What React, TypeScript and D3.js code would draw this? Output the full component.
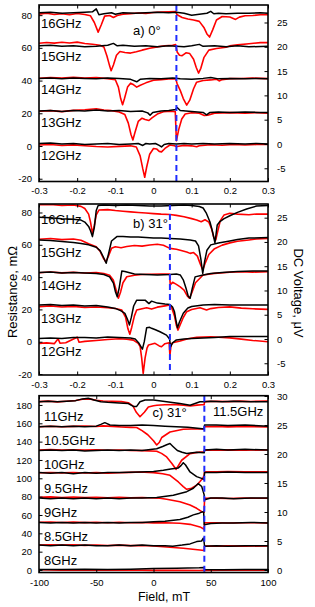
import React, { useEffect, useRef } from "react";
import * as d3 from "d3";

type Pt = [number, number];

// ---- panel a) 0deg, field in T. red = resistance (mOhm), black = DC voltage (uV)
const a16R: Pt[] = [[-0.3,80.6],[-0.28,81.2],[-0.26,80.4],[-0.24,80.9],[-0.22,80.2],[-0.2,81.0],[-0.18,80.4],[-0.165,79.6],[-0.155,75.5],[-0.145,69.6],[-0.137,74],[-0.128,79.4],[-0.115,79.8],[-0.105,78.6],[-0.095,79.8],[-0.08,80.6],[-0.06,80.9],[-0.04,81.3],[-0.02,81.1],[0,81.6],[0.02,81.9],[0.04,82.1],[0.058,82.2],[0.062,80.2],[0.075,78.6],[0.09,77.6],[0.105,77],[0.12,76.2],[0.132,72.5],[0.14,68.5],[0.147,66.6],[0.155,71],[0.165,77],[0.18,79.2],[0.2,78.9],[0.215,77.4],[0.225,78.8],[0.24,79.6],[0.26,79.8],[0.28,80.2],[0.3,80.3]];
const a16B: Pt[] = [[-0.3,27.0],[-0.27,27.1],[-0.24,26.9],[-0.21,27.0],[-0.18,27.1],[-0.16,27.2],[-0.15,27.8],[-0.143,26.6],[-0.13,26.8],[-0.11,27.0],[-0.1,26.7],[-0.08,27.0],[-0.05,26.9],[-0.02,27.0],[0.01,27.1],[0.04,27.0],[0.06,27.1],[0.08,26.9],[0.1,26.5],[0.12,26.7],[0.14,26.9],[0.15,27.3],[0.158,26.8],[0.17,26.9],[0.19,26.8],[0.22,26.9],[0.25,26.9],[0.28,27.0],[0.3,26.9]];
const a15R: Pt[] = [[-0.3,62.8],[-0.28,63.3],[-0.26,62.9],[-0.24,63.4],[-0.22,63.0],[-0.2,63.5],[-0.18,62.7],[-0.16,62.2],[-0.14,61.6],[-0.13,60.5],[-0.122,55],[-0.115,49],[-0.111,46],[-0.105,49.5],[-0.097,55.5],[-0.088,57.8],[-0.075,57.2],[-0.06,56.8],[-0.045,57.6],[-0.03,58.6],[-0.01,59.8],[0.01,60.6],[0.03,61.3],[0.05,61.6],[0.058,62.0],[0.062,57.5],[0.068,55.5],[0.075,55.2],[0.085,57],[0.095,56.5],[0.105,53],[0.112,48],[0.118,44.6],[0.124,47.5],[0.132,54],[0.145,58.6],[0.165,59.6],[0.19,60.4],[0.2,61.2],[0.22,61.8],[0.25,62.5],[0.28,63.2],[0.3,63.2]];
const a15B: Pt[] = [[-0.3,20.2],[-0.27,20.3],[-0.24,20.1],[-0.21,20.2],[-0.18,20.0],[-0.15,20.1],[-0.12,20.3],[-0.105,20.7],[-0.095,20.2],[-0.08,20.3],[-0.05,20.1],[-0.02,20.2],[0.01,20.0],[0.04,20.2],[0.06,20.1],[0.08,20.0],[0.1,20.2],[0.12,20.5],[0.13,20.1],[0.16,20.2],[0.19,20.0],[0.22,20.2],[0.25,20.0],[0.3,20.1]];
const a14R: Pt[] = [[-0.3,41.4],[-0.27,41.9],[-0.24,41.5],[-0.21,42.0],[-0.18,41.6],[-0.15,41.8],[-0.12,41.2],[-0.1,40.5],[-0.092,36],[-0.086,29],[-0.081,25.2],[-0.076,29],[-0.068,36],[-0.06,38.4],[-0.052,37.4],[-0.044,36],[-0.036,37],[-0.02,38.6],[0,40.2],[0.02,40.6],[0.04,41.0],[0.058,41.2],[0.062,38],[0.07,34],[0.078,29],[0.087,25.0],[0.095,28],[0.105,35],[0.113,39],[0.13,40],[0.15,40.4],[0.165,40.9],[0.172,39.8],[0.18,40.6],[0.2,41.2],[0.23,41.3],[0.26,41.5],[0.3,41.2]];
const a14B: Pt[] = [[-0.3,13.5],[-0.27,13.6],[-0.24,13.4],[-0.21,13.6],[-0.18,13.5],[-0.15,13.4],[-0.12,13.6],[-0.09,13.5],[-0.06,13.3],[-0.044,12.8],[-0.035,13.3],[-0.01,13.5],[0.02,13.4],[0.05,13.6],[0.07,13.4],[0.1,13.3],[0.13,13.5],[0.15,13.7],[0.17,13.4],[0.2,13.5],[0.24,13.4],[0.27,13.5],[0.3,13.4]];
const a13R: Pt[] = [[-0.3,21.2],[-0.27,21.6],[-0.24,21.0],[-0.21,21.8],[-0.18,22.2],[-0.15,22.8],[-0.13,22.0],[-0.11,21.6],[-0.09,20.8],[-0.075,19.2],[-0.066,14],[-0.059,7],[-0.054,3.7],[-0.049,8],[-0.04,15],[-0.03,17],[-0.022,16.2],[-0.012,15.6],[-0.004,17.2],[0.01,19.5],[0.026,21],[0.045,21.2],[0.057,21.0],[0.06,3.2],[0.066,10],[0.074,16.5],[0.083,19.6],[0.1,20.3],[0.12,20.0],[0.133,18.6],[0.142,18.8],[0.16,20.1],[0.2,20.4],[0.24,20.1],[0.27,20.4],[0.3,20.0]];
const a13B: Pt[] = [[-0.3,6.8],[-0.27,6.9],[-0.24,6.7],[-0.21,6.9],[-0.18,6.8],[-0.15,7.0],[-0.12,6.8],[-0.09,6.9],[-0.06,6.7],[-0.03,6.8],[-0.015,6.4],[-0.009,5.9],[-0.002,6.5],[0.02,6.8],[0.04,6.9],[0.058,7.1],[0.062,7.5],[0.07,6.9],[0.1,6.7],[0.13,6.5],[0.139,6.0],[0.148,6.5],[0.17,6.6],[0.2,6.5],[0.24,6.6],[0.27,6.5],[0.3,6.5]];
const a12R: Pt[] = [[-0.3,0.6],[-0.27,0.9],[-0.24,0.3],[-0.21,0.7],[-0.18,0.2],[-0.15,-0.3],[-0.12,-0.6],[-0.09,-0.2],[-0.06,0.1],[-0.045,-0.6],[-0.035,-6],[-0.028,-14],[-0.023,-19.1],[-0.018,-13],[-0.01,-5],[0,-1.5],[0.008,-1.8],[0.015,-3.3],[0.021,-3.6],[0.03,-1.5],[0.043,0.6],[0.055,0.2],[0.06,-0.4],[0.065,-0.1],[0.08,0.4],[0.1,0.1],[0.113,-0.5],[0.12,0.2],[0.15,0.8],[0.18,0.5],[0.21,0.9],[0.24,0.6],[0.27,0.9],[0.3,1.0]];
const a12B: Pt[] = [[-0.3,0.1],[-0.27,0.2],[-0.24,0.0],[-0.21,0.1],[-0.18,-0.1],[-0.15,0.0],[-0.12,0.1],[-0.09,-0.1],[-0.06,0.0],[-0.04,0.1],[-0.028,-0.3],[-0.02,0.1],[-0.01,0.0],[0.005,0.1],[0.015,-0.3],[0.021,-0.6],[0.028,-0.1],[0.04,0.1],[0.06,0.0],[0.08,0.1],[0.1,0.0],[0.13,0.1],[0.16,0.0],[0.2,0.1],[0.24,0.0],[0.27,0.1],[0.3,0.0]];

// ---- panel b) 31deg
const b16R: Pt[] = [[-0.3,84.8],[-0.27,85.0],[-0.24,84.3],[-0.21,84.6],[-0.19,83.8],[-0.18,82.5],[-0.17,79],[-0.165,74],[-0.16,67],[-0.155,72],[-0.15,78.5],[-0.143,81.5],[-0.12,81.8],[-0.1,81.2],[-0.08,80.8],[-0.06,80.4],[-0.04,80.0],[-0.02,79.7],[0,79.3],[0.02,79.0],[0.043,78.8],[0.06,78.2],[0.08,77.4],[0.1,76.2],[0.113,75.4],[0.125,74.3],[0.135,75.5],[0.145,74],[0.152,70],[0.158,64.5],[0.163,63],[0.168,68],[0.175,75],[0.185,78.5],[0.2,79.5],[0.22,79.0],[0.25,78.6],[0.27,79.1],[0.3,79.0]];
const b16B: Pt[] = [[-0.3,25.1],[-0.27,25.0],[-0.24,24.8],[-0.21,24.7],[-0.19,24.5],[-0.18,24.1],[-0.17,23.2],[-0.165,22.3],[-0.16,21.1],[-0.155,23],[-0.15,26.5],[-0.145,27.5],[-0.13,27.6],[-0.1,27.5],[-0.07,27.6],[-0.04,27.5],[-0.01,27.4],[0.02,27.4],[0.05,27.5],[0.08,27.6],[0.1,27.5],[0.12,27.3],[0.13,27.0],[0.138,26.0],[0.148,24.1],[0.155,22],[0.161,19.8],[0.167,23.5],[0.174,24.2],[0.185,24.8],[0.2,25.4],[0.22,26.1],[0.244,26.8],[0.27,27.4],[0.3,27.5]];
const b15R: Pt[] = [[-0.3,63.4],[-0.27,63.9],[-0.24,63.2],[-0.21,63.6],[-0.19,62.8],[-0.17,60.6],[-0.15,58.8],[-0.14,56],[-0.132,52],[-0.125,49.5],[-0.118,53],[-0.11,57.8],[-0.1,58.8],[-0.085,58.2],[-0.07,58.9],[-0.05,59.6],[-0.03,59.2],[-0.01,59.9],[0.01,60.3],[0.026,59.7],[0.043,57.8],[0.06,57.2],[0.075,56.3],[0.087,55.6],[0.096,54.7],[0.105,55.2],[0.115,53],[0.122,48.5],[0.129,44.4],[0.136,49],[0.145,54],[0.16,57.6],[0.18,59.8],[0.2,61.2],[0.22,62.2],[0.25,63.0],[0.27,63.6],[0.3,64.0]];
const b15B: Pt[] = [[-0.3,20.4],[-0.27,20.3],[-0.24,20.1],[-0.21,19.9],[-0.19,19.7],[-0.17,19.4],[-0.15,18.9],[-0.14,18.2],[-0.132,17],[-0.124,15.6],[-0.118,17.5],[-0.11,20.2],[-0.096,21.1],[-0.08,21.1],[-0.06,21.0],[-0.04,21.0],[-0.02,20.9],[0,20.8],[0.02,20.8],[0.043,20.7],[0.07,20.6],[0.096,20.4],[0.11,20.2],[0.118,19.2],[0.124,16.5],[0.129,13.5],[0.134,16],[0.14,18.3],[0.15,19.4],[0.17,19.8],[0.2,20.2],[0.22,20.5],[0.25,20.8],[0.3,20.9]];
const b14R: Pt[] = [[-0.3,42.7],[-0.27,43.2],[-0.24,42.6],[-0.21,43.0],[-0.18,42.5],[-0.15,42.9],[-0.13,42.2],[-0.115,41.2],[-0.105,38],[-0.098,32],[-0.092,26.9],[-0.086,31],[-0.08,36.5],[-0.07,40.2],[-0.05,41.2],[-0.03,41.6],[-0.01,41.8],[0.02,41.9],[0.042,41.9],[0.044,35.1],[0.05,36.8],[0.06,35.5],[0.07,34],[0.08,32],[0.088,28.5],[0.094,26.9],[0.1,30],[0.11,36.5],[0.13,41.3],[0.16,42.3],[0.2,43.0],[0.23,43.3],[0.26,43.1],[0.3,43.3]];
const b14B: Pt[] = [[-0.3,13.7],[-0.27,13.8],[-0.24,13.6],[-0.21,13.7],[-0.18,13.6],[-0.15,13.5],[-0.13,13.3],[-0.115,12.8],[-0.105,11.5],[-0.1,9.8],[-0.095,8.7],[-0.09,10.5],[-0.083,14.0],[-0.075,13.9],[-0.05,13.4],[-0.02,13.3],[0.01,13.2],[0.043,13.3],[0.06,13.4],[0.07,13.2],[0.078,12.2],[0.085,10.5],[0.091,8.8],[0.096,8.4],[0.102,10.6],[0.109,12.8],[0.13,13.2],[0.15,13.5],[0.18,13.7],[0.22,13.9],[0.26,14.0],[0.3,14.0]];
const b13R: Pt[] = [[-0.3,21.7],[-0.27,22.2],[-0.24,21.5],[-0.21,21.9],[-0.18,21.2],[-0.15,21.5],[-0.12,21.0],[-0.1,20.6],[-0.083,19.6],[-0.073,15],[-0.067,8],[-0.062,4.6],[-0.057,9],[-0.05,16],[-0.044,19.6],[-0.03,20.4],[-0.018,21.0],[-0.005,20.2],[0.01,21.4],[0.03,22.2],[0.043,22.7],[0.048,20.8],[0.055,16],[0.06,10],[0.064,7.2],[0.07,10.5],[0.078,15],[0.087,18.6],[0.1,20.0],[0.122,21.0],[0.139,19.6],[0.15,20.5],[0.17,21.2],[0.2,21.6],[0.23,20.8],[0.26,20.4],[0.3,20.0]];
const b13B: Pt[] = [[-0.3,7.0],[-0.27,7.1],[-0.24,6.9],[-0.21,7.0],[-0.18,6.8],[-0.15,6.9],[-0.12,6.6],[-0.1,6.3],[-0.085,5.8],[-0.075,5.3],[-0.068,4],[-0.063,2.9],[-0.058,4.5],[-0.052,6.8],[-0.044,8.0],[-0.03,8.0],[-0.022,8.0],[-0.012,7.3],[-0.005,7.8],[0.01,7.4],[0.03,7.2],[0.043,7.1],[0.05,6.6],[0.055,5.6],[0.059,3.8],[0.063,2.3],[0.068,3.5],[0.078,5.3],[0.09,6.4],[0.1,6.7],[0.13,7.0],[0.16,7.1],[0.2,7.0],[0.25,7.0],[0.3,7.0]];
const b12R: Pt[] = [[-0.3,-1.0],[-0.28,-0.7],[-0.26,-1.2],[-0.25,1.8],[-0.245,-0.9],[-0.23,-0.6],[-0.2,2.8],[-0.195,-0.3],[-0.18,0.2],[-0.15,0.8],[-0.12,1.4],[-0.09,1.8],[-0.07,1.5],[-0.053,1.0],[-0.04,-1.0],[-0.035,-3.1],[-0.031,-10],[-0.027,-19.6],[-0.022,-10],[-0.017,-4],[-0.013,-2.0],[0.004,-1.0],[0.015,-2.6],[0.021,-3.1],[0.03,-1.2],[0.041,-0.6],[0.043,-8.7],[0.046,-2],[0.05,-0.6],[0.07,0.4],[0.09,1.8],[0.113,2.7],[0.15,3.1],[0.2,2.4],[0.23,1.6],[0.26,0.8],[0.3,0.0]];
const b12B: Pt[] = [[-0.3,0.1],[-0.27,0.2],[-0.24,0.1],[-0.21,0.3],[-0.18,0.3],[-0.15,0.2],[-0.12,0.4],[-0.09,0.3],[-0.06,0.2],[-0.048,0.0],[-0.038,-0.9],[-0.029,-2.1],[-0.024,-0.5],[-0.018,2.3],[-0.01,2.4],[-0.005,2.2],[0.005,1.9],[0.017,1.5],[0.034,0.8],[0.042,0.0],[0.045,-1.6],[0.05,-0.8],[0.06,-0.2],[0.08,0.0],[0.1,0.1],[0.13,0.2],[0.16,0.3],[0.2,0.5],[0.25,0.5],[0.3,0.5]];

// ---- panel c) 31deg, field in mT
const c115R: Pt[] = [[-100,183.6],[-92,184.2],[-84,183.4],[-76,184.0],[-68,184.8],[-62,186.2],[-56,186.6],[-50,185.2],[-44,184.4],[-36,184.0],[-28,183.6],[-22,182.5],[-18,179],[-15,172],[-11.8,167.2],[-8,172],[-4.5,177.8],[0,179.2],[3,179.7],[10,180.2],[20,180.4],[26,179.6],[32,178.9],[38,179.8],[42,180.2],[44.2,180.2],[44.6,183.6],[55,184.0],[65,183.6],[75,184.2],[85,183.8],[100,184.4]];
const c115B: Pt[] = [[-100,29.0],[-92,29.1],[-84,29.0],[-76,29.1],[-68,29.2],[-62,29.5],[-57,29.6],[-52,29.3],[-46,29.0],[-40,28.9],[-30,28.8],[-22,28.7],[-17.6,28.2],[-14.7,28.2],[-11.8,29.0],[-7.4,29.3],[0,29.3],[11.5,29.0],[23,28.7],[32,28.4],[40.6,29.0],[44.4,29.0],[50,29.1],[60,29.0],[70,29.1],[85,29.0],[100,29.0]];
const c11R: Pt[] = [[-100,156.3],[-90,156.8],[-80,156.2],[-70,156.6],[-60,157.0],[-50,156.5],[-43.8,157.2],[-36,156.6],[-28,156.0],[-20,155.6],[-14.7,155.4],[-10,152],[-5,147.5],[0,141],[2.8,136.3],[5,139],[7.2,144.5],[14.4,150.5],[26,153.5],[40.6,154.1],[44.2,153.8],[44.6,156.3],[55,156.6],[65,156.1],[80,156.5],[100,156.0]];
const c11B: Pt[] = [[-100,24.7],[-90,24.8],[-80,24.7],[-70,24.8],[-60,24.7],[-50,24.8],[-46,25.1],[-42.5,25.4],[-38,25.0],[-30,24.9],[-20,24.9],[-10,25.0],[0,24.9],[10,24.8],[20,24.7],[30,24.6],[40.6,24.4],[44.2,24.3],[44.6,25.0],[55,25.0],[65,24.9],[80,25.0],[100,24.8]];
const c105R: Pt[] = [[-100,130.9],[-90,131.3],[-80,130.8],[-70,131.2],[-60,130.7],[-50,131.0],[-40,130.6],[-30,130.9],[-20,130.4],[-10,130.2],[2.8,129.5],[7,127.2],[11.5,123.3],[15.9,116.5],[19.7,109.8],[24.6,119.7],[31.9,126.9],[40.6,128.7],[44.2,128.7],[44.6,130.9],[55,130.6],[65,131.0],[80,130.7],[100,130.9]];
const c105B: Pt[] = [[-100,20.6],[-90,20.7],[-80,20.6],[-70,20.7],[-60,20.5],[-50,20.6],[-40,20.7],[-30,20.6],[-20,20.7],[-10,20.6],[2.8,20.9],[8,21.3],[11.5,21.6],[14.4,21.8],[17,21.3],[20.8,20.6],[25,20.3],[29,20.1],[37.7,20.3],[44.2,20.2],[44.6,20.7],[55,20.8],[65,20.7],[80,20.8],[100,20.7]];
const c10R: Pt[] = [[-100,106.1],[-90,106.4],[-80,105.9],[-70,106.3],[-60,105.8],[-50,106.2],[-40,105.7],[-30,106.0],[-20,106.5],[-11.8,106.9],[0,106.2],[8,105],[14.4,103.3],[21.7,96],[26,91],[29,88],[33.3,89.1],[37.7,92.5],[40.6,96.5],[43,100],[44.2,103],[44.6,107.2],[55,107.0],[65,107.3],[80,107.0],[100,107.2]];
const c10B: Pt[] = [[-100,16.8],[-90,16.7],[-80,16.8],[-70,16.6],[-60,16.8],[-50,16.7],[-40,16.8],[-30,16.8],[-11.8,16.9],[0,17.0],[8.6,17.2],[15,17.4],[21.7,17.6],[24,18.0],[26,18.5],[28,18.1],[31.9,16.9],[37.7,16.1],[42,15.8],[44.2,15.6],[44.6,16.8],[55,16.8],[65,16.9],[80,16.8],[100,16.8]];
const c95R: Pt[] = [[-100,79.3],[-90,79.7],[-80,79.0],[-70,79.5],[-60,78.9],[-50,79.3],[-40,78.8],[-30,79.2],[-20,78.7],[-10,79.0],[0,78.5],[5.7,78.2],[11.5,77.1],[23.1,74.5],[31.9,70.9],[37.7,67.3],[42.1,63.6],[44.2,63.0],[44.6,78.2],[55,78.4],[65,78.0],[80,78.4],[100,78.2]];
const c95B: Pt[] = [[-100,12.4],[-90,12.3],[-80,12.4],[-70,12.3],[-60,12.4],[-50,12.3],[-40,12.4],[-30,12.3],[-20,12.4],[-10,12.4],[2.8,12.5],[17.3,12.9],[29,13.5],[34.8,14.1],[39.1,14.9],[42.1,14.4],[44.2,13.0],[44.6,12.1],[50,12.4],[60,12.4],[70,12.3],[85,12.4],[100,12.4]];
const c9R: Pt[] = [[-100,52.0],[-90,52.4],[-80,51.8],[-70,52.2],[-60,51.7],[-50,52.1],[-40,51.6],[-30,52.0],[-20,51.5],[-10,51.8],[0,51.4],[10,51.6],[23,51.0],[31.9,49.8],[40.6,47.0],[44.2,44.5],[44.6,51.5],[55,51.6],[65,51.2],[80,51.6],[100,51.4]];
const c9B: Pt[] = [[-100,8.2],[-90,8.1],[-80,8.2],[-70,8.1],[-60,8.2],[-50,8.1],[-40,8.2],[-30,8.1],[-20,8.2],[-10,8.2],[0,8.3],[10,8.4],[23.1,8.7],[30,9.1],[34.8,9.5],[40,9.8],[43.8,10.1],[44.3,7.8],[50,8.0],[60,8.1],[70,8.1],[85,8.2],[100,8.1]];
const c85R: Pt[] = [[-100,27.3],[-90,27.6],[-80,27.1],[-70,27.4],[-60,26.9],[-50,27.2],[-40,26.8],[-30,27.1],[-20,26.6],[-10,26.8],[0,26.2],[8.6,25.4],[26,23.7],[40.6,21.8],[44.2,21.2],[44.6,26.2],[55,26.0],[65,26.3],[80,26.0],[100,26.2]];
const c85B: Pt[] = [[-100,4.3],[-90,4.2],[-80,4.3],[-70,4.2],[-60,4.3],[-50,4.2],[-40,4.2],[-30,4.3],[-20,4.2],[-10,4.3],[0,4.2],[10,4.2],[16.8,4.1],[25,4.3],[31.9,4.5],[37.7,4.9],[42,5.0],[43.5,5.5],[44.2,4.8],[44.6,4.1],[55,4.2],[65,4.1],[80,4.2],[100,4.2]];
const c8R: Pt[] = [[-100,0.2],[-80,-0.2],[-60,0.1],[-40,-0.3],[-20,0.0],[0,-0.4],[20,-0.2],[40,-0.6],[44.4,-0.4],[60,-0.1],[80,-0.3],[100,-0.2]];
const c8B: Pt[] = [[-100,0.1],[-80,0.1],[-60,0.15],[-40,0.1],[-20,0.15],[0,0.25],[20,0.3],[40,0.4],[44.2,0.45],[44.6,0.1],[60,0.05],[80,0.1],[100,0.1]];

const freqAB = ["16GHz", "15GHz", "14GHz", "13GHz", "12GHz"];
const freqC = ["11GHz", "10.5GHz", "10GHz", "9.5GHz", "9GHz", "8.5GHz", "8GHz"];

const xTicksAB = [-0.3, -0.2, -0.1, 0, 0.1, 0.2, 0.3];
const xTicksC = [-100, -50, 0, 50, 100];
const lTicksAB = [-20, 0, 20, 40, 60, 80];
const rTicksAB = [-5, 0, 5, 10, 15, 20, 25];
const lTicksC = [0, 20, 40, 60, 80, 100, 120, 140, 160, 180];
const rTicksC = [0, 5, 10, 15, 20, 25, 30];

// resonance marker (blue dashed)
const dashA = 0.06;
const dashB = 0.043;
const dashC = 44.4;

const W = 315;
const H = 607;
const X0 = 39;
const X1 = 268;
const FONT = "'Liberation Sans', Arial, sans-serif";

const panels = [
  {
    top: 5, bottom: 181.5, xDom: [-0.3, 0.3], lDom: [-21.7, 86.2], rDom: [-7.72, 28.6],
    xTicks: xTicksAB, lTicks: lTicksAB, rTicks: rTicksAB, xPad: 5.3,
    red: [a16R, a15R, a14R, a13R, a12R], black: [a16B, a15B, a14B, a13B, a12B],
    dash: dashA, labels: freqAB, labelX: 41, labelY: 27.5, labelStep: 33,
    note: "a) 0°", noteX: 133, noteY: 34.5,
  },
  {
    top: 204, bottom: 375, xDom: [-0.3, 0.3], lDom: [-20.6, 85.26], rDom: [-7.42, 27.82],
    xTicks: xTicksAB, lTicks: lTicksAB, rTicks: rTicksAB, xPad: 6.7,
    red: [b16R, b15R, b14R, b13R, b12R], black: [b16B, b15B, b14B, b13B, b12B],
    dash: dashB, labels: freqAB, labelX: 41, labelY: 223.5, labelStep: 33,
    note: "b) 31°", noteX: 133, noteY: 227.5,
  },
  {
    top: 395.7, bottom: 572.5, xDom: [-100, 100], lDom: [-2.73, 190.1], rDom: [-0.43, 30.05],
    xTicks: xTicksC, lTicks: lTicksC, rTicks: rTicksC, xPad: 6.5,
    red: [c115R, c11R, c105R, c10R, c95R, c9R, c85R, c8R],
    black: [c115B, c11B, c105B, c10B, c95B, c9B, c85B, c8B],
    dash: dashC, labels: freqC, labelX: 44, labelY: 421, labelStep: 24,
    note: "c) 31°", noteX: 152.5, noteY: 417,
  },
];

export default function App() {
  const ref = useRef<SVGSVGElement>(null);

  useEffect(() => {
    const svg = d3.select(ref.current);
    svg.selectAll("*").remove();

    panels.forEach((p, pi) => {
      const x = d3.scaleLinear().domain(p.xDom).range([X0, X1]);
      const yl = d3.scaleLinear().domain(p.lDom).range([p.bottom, p.top]);
      const yr = d3.scaleLinear().domain(p.rDom).range([p.bottom, p.top]);
      const g = svg.append("g");

      const clipId = "clip" + pi;
      svg.append("defs").append("clipPath").attr("id", clipId)
        .append("rect").attr("x", X0).attr("y", p.top)
        .attr("width", X1 - X0).attr("height", p.bottom - p.top);

      const plot = g.append("g").attr("clip-path", `url(#${clipId})`);
      const lineL = d3.line<Pt>().x(d => x(d[0])).y(d => yl(d[1]));
      const lineR = d3.line<Pt>().x(d => x(d[0])).y(d => yr(d[1]));

      p.red.forEach(s => {
        plot.append("path").attr("d", lineL(s)).attr("fill", "none")
          .attr("stroke", "#ff0000").attr("stroke-width", 1.6).attr("stroke-linejoin", "round");
      });
      p.black.forEach(s => {
        plot.append("path").attr("d", lineR(s)).attr("fill", "none")
          .attr("stroke", "#000").attr("stroke-width", 1.5).attr("stroke-linejoin", "round");
      });

      plot.append("line")
        .attr("x1", x(p.dash)).attr("x2", x(p.dash))
        .attr("y1", p.top).attr("y2", p.bottom)
        .attr("stroke", "#1f2cff").attr("stroke-width", 2)
        .attr("stroke-dasharray", "6,4");

      // axes, ticks pointing inward
      const styleAxis = (a: d3.Selection<SVGGElement, unknown, null, undefined>) => {
        a.attr("font-size", 9.5).attr("font-family", FONT);
        a.select(".domain").remove();
        a.selectAll(".tick line").attr("stroke-width", 1);
      };
      g.append("g").attr("transform", `translate(0,${p.bottom})`)
        .call(d3.axisBottom(x).tickValues(p.xTicks).tickSize(-3.5).tickPadding(p.xPad)
          .tickFormat(d => String(d)))
        .call(styleAxis);
      g.append("g").attr("transform", `translate(0,${p.top})`)
        .call(d3.axisTop(x).tickValues(p.xTicks).tickSize(-3.5).tickFormat(() => ""))
        .call(styleAxis);
      g.append("g").attr("transform", `translate(${X0},0)`)
        .call(d3.axisLeft(yl).tickValues(p.lTicks).tickSize(-3.5).tickPadding(7)
          .tickFormat(d => String(d)))
        .call(styleAxis);
      g.append("g").attr("transform", `translate(${X1},0)`)
        .call(d3.axisRight(yr).tickValues(p.rTicks).tickSize(-3.5).tickPadding(9)
          .tickFormat(d => String(d)))
        .call(styleAxis);

      g.append("rect").attr("x", X0).attr("y", p.top)
        .attr("width", X1 - X0).attr("height", p.bottom - p.top)
        .attr("fill", "none").attr("stroke", "#000").attr("stroke-width", 1.6);

      g.selectAll(".flabel").data(p.labels).enter().append("text")
        .attr("x", p.labelX).attr("y", (d, i) => p.labelY + i * p.labelStep)
        .attr("font-size", 13).attr("font-family", FONT).attr("fill", "#000")
        .text(d => d);

      g.append("text").attr("x", p.noteX).attr("y", p.noteY)
        .attr("font-size", 13).attr("font-family", FONT).text(p.note);
    });

    svg.append("text").attr("x", 213).attr("y", 416)
      .attr("font-size", 13).attr("font-family", FONT).text("11.5GHz");

    svg.append("text").attr("transform", "translate(17,292) rotate(-90)")
      .attr("text-anchor", "middle").attr("font-size", 13).attr("font-family", FONT)
      .text("Resistance, mΩ");
    svg.append("text").attr("transform", "translate(294,293) rotate(90)")
      .attr("text-anchor", "middle").attr("font-size", 13).attr("font-family", FONT)
      .text("DC Voltage, μV");
    svg.append("text").attr("x", 164).attr("y", 600.5)
      .attr("text-anchor", "middle").attr("font-size", 12.5).attr("font-family", FONT)
      .text("Field, mT");
  }, []);

  return (
    <svg ref={ref} width={W} height={H}
      style={{ position: "absolute", left: 0, top: 0, background: "#fff" }} />
  );
}
